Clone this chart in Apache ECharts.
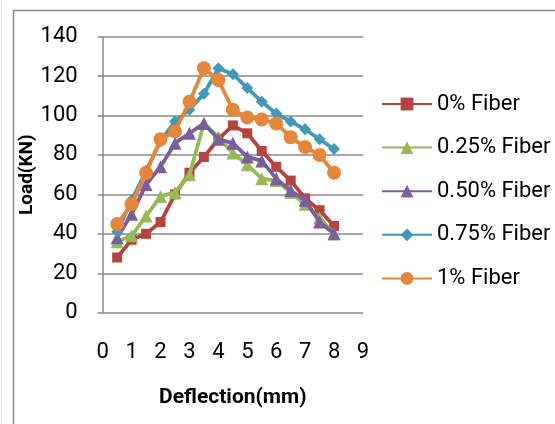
<!DOCTYPE html>
<html>
<head>
<meta charset="utf-8">
<script src="https://cdn.jsdelivr.net/npm/echarts@6/dist/echarts.min.js"></script>
<style>
html,body{margin:0;padding:0;background:#fff;}
#c{width:555px;height:424px;}
</style>
</head>
<body>
<div id="c"></div>
<script>
var deflection = [0.5,1,1.5,2,2.5,3,3.5,4,4.5,5,5.5,6,6.5,7,7.5,8];
var fiber0    = [28,37,40,46,60,71,79,88,95,91,82,74,67,58,52,44];
var fiber025  = [36,39,49,59,61,70,96,89,81,75,68,67,61,55,48,40];
var fiber050  = [38,50,65,74,86,91,96,88,86,79,77,68,62,57,46,40];
var fiber075  = [41,57,72,87,97,103,111,124,121,114,107,101,97,93,88,83];
var fiber1    = [45,55,71,88,92,107,124,118,103,99,98,96,89,84,80,71];
var seriesNames = ['0% Fiber','0.25% Fiber','0.50% Fiber','0.75% Fiber','1% Fiber'];
var xTicks = [0,1,2,3,4,5,6,7,8,9];
var yTicks = [0,20,40,60,80,100,120,140];

function pairs(ys){ return deflection.map(function(x,i){ return [x, ys[i]]; }); }

var colors = ['#B6433F','#96BA55','#7A5E9E','#4299B3','#E5863A'];
var symbols = ['rect','triangle','triangle','diamond','circle'];
var symSizes = [10,13,13,12,14];
var dataSets = [fiber0,fiber025,fiber050,fiber075,fiber1];

var font = 'Roboto, "Liberation Sans", sans-serif';

var series = dataSets.map(function(d,i){
  return {
    name: seriesNames[i],
    type: 'line',
    data: pairs(d),
    symbol: symbols[i],
    symbolSize: symSizes[i],
    showAllSymbol: true,
    lineStyle: {color: colors[i], width: 3.8},
    itemStyle: {color: colors[i], borderWidth: 0},
    animation: false,
    z: 2 + i
  };
});

var chart = echarts.init(document.getElementById('c'), null, {renderer:'canvas'});
chart.setOption({
  animation: false,
  backgroundColor: '#ffffff',
  color: colors,
  graphic: [
    {type:'rect', shape:{x:1.5,y:-5,width:600,height:500}, style:{fill:'none', stroke:'#e2e2e2', lineWidth:1}, silent:true, z:0},
    {type:'rect', shape:{x:13.5,y:10.5,width:600,height:500}, style:{fill:'none', stroke:'#8a8a8a', lineWidth:1.5}, silent:true, z:0}
  ],
  grid: {left: 102.7, right: 192, top: 36.7, bottom: 111.3, containLabel: false},
  xAxis: {
    type: 'value', min: 0, max: 9, interval: 1,
    name: 'Deflection(mm)', nameLocation: 'middle', nameGap: 75,
    nameTextStyle: {fontFamily: font, fontWeight: 'bold', fontSize: 21, color: '#000'},
    axisLine: {show: false},
    axisTick: {show: false},
    splitLine: {show: false},
    axisLabel: {
      margin: 29, fontFamily: font, fontSize: 22, color: '#000',
      formatter: function(v){ return xTicks.indexOf(v) >= 0 ? String(v) : ''; }
    }
  },
  yAxis: {
    type: 'value', min: 0, max: 140, interval: 20,
    name: 'Load(KN)', nameLocation: 'middle', nameGap: 63, nameRotate: 90,
    nameTextStyle: {fontFamily: font, fontWeight: 'bold', fontSize: 19, color: '#000'},
    axisLine: {show: true, lineStyle: {color: '#8a8a8a', width: 1.5}},
    axisTick: {show: true, length: 5, lineStyle: {color: '#8a8a8a', width: 1.5}},
    splitLine: {show: true, lineStyle: {color: '#8a8a8a', width: 1.5}},
    axisLabel: {
      margin: 25, fontFamily: font, fontSize: 22, color: '#000',
      formatter: function(v){ return yTicks.indexOf(v) >= 0 ? String(v) : ''; }
    }
  },
  legend: {
    orient: 'vertical', left: 376, top: 87,
    itemWidth: 50, itemHeight: 16, itemGap: 19.6,
    textStyle: {fontFamily: font, fontSize: 22, color: '#000', lineHeight: 24},
    data: seriesNames
  },
  series: series
});
</script>
</body>
</html>
